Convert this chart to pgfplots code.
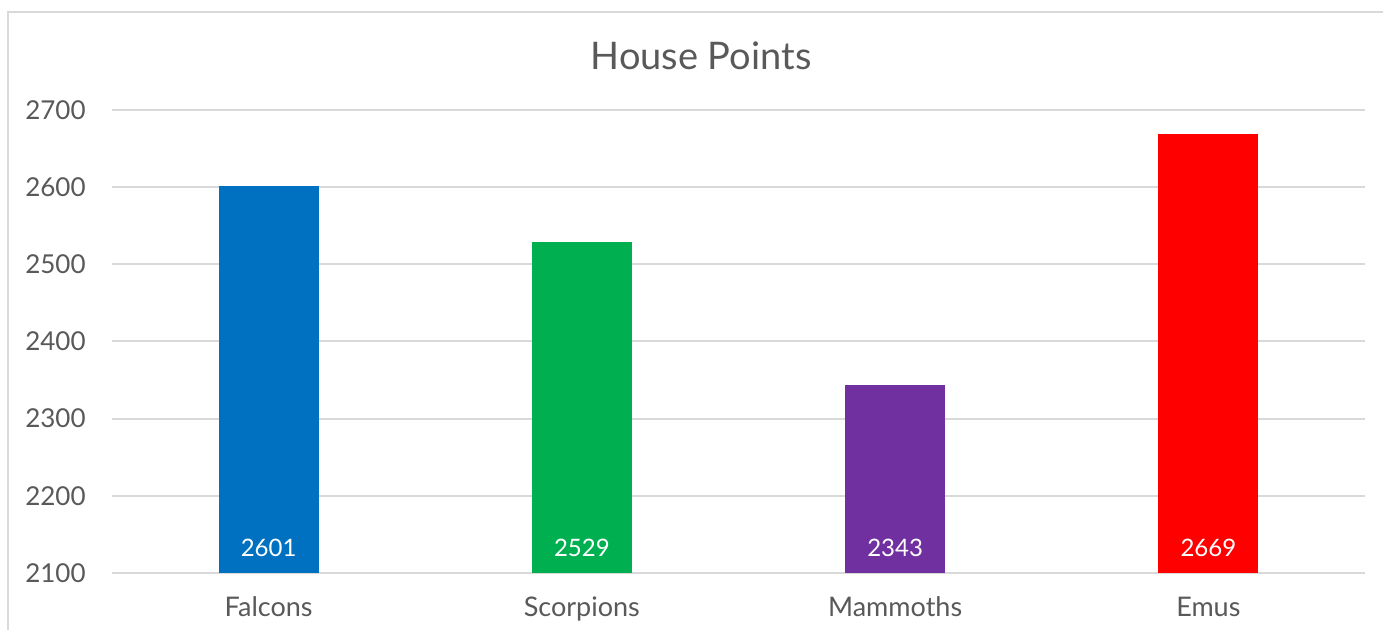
\documentclass[border=0pt]{standalone}
\usepackage{fontspec}
\setmainfont{Lato}
\usepackage{pgfplots}
\pgfplotsset{compat=1.18}
\definecolor{txt}{HTML}{595959}
\definecolor{gridc}{HTML}{D9D9D9}
\definecolor{cblue}{HTML}{0070C0}
\definecolor{cgreen}{HTML}{00B050}
\definecolor{cpurple}{HTML}{7030A0}
\definecolor{cred}{HTML}{FF0000}
\begin{document}
\begin{tikzpicture}
\useasboundingbox (0,0) rectangle (691.5pt,315pt);
\fill[white] (0,0) rectangle (691.5pt,315pt);
\draw[gridc, line width=1pt] (4pt,-20pt) rectangle (720pt,309pt);
\node[text=txt, font=\fontsize{19}{22}\selectfont] at (350.5pt,287pt) {House Points};
\begin{axis}[
  at={(56pt,28.5pt)}, anchor=south west,
  scale only axis, width=626.5pt, height=231.5pt,
  xmin=-0.5, xmax=3.5, ymin=2100, ymax=2700,
  ytick={2100,2200,...,2700},
  xtick={0,1,2,3},
  xticklabels={Falcons,Scorpions,Mammoths,Emus},
  axis line style={draw=none},
  major tick length=0pt,
  ymajorgrids, grid style={gridc, line width=1pt},
  /pgf/number format/assume math mode=true,
  /pgf/number format/set thousands separator={},
  ticklabel style={text=txt, font=\fontsize{13}{15}\selectfont},
  yticklabel style={anchor=east, inner sep=0pt, xshift=-13pt},
  xticklabel style={anchor=base, inner sep=0pt, yshift=-22pt, font=\fontsize{13.5}{15}\selectfont},
  clip=true,
]
\addplot[ybar, bar width=50pt, bar shift=0pt, fill=cblue, draw=none] coordinates {(0,2601)};
\addplot[ybar, bar width=50pt, bar shift=0pt, fill=cgreen, draw=none] coordinates {(1,2529)};
\addplot[ybar, bar width=50pt, bar shift=0pt, fill=cpurple, draw=none] coordinates {(2,2343)};
\addplot[ybar, bar width=50pt, bar shift=0pt, fill=cred, draw=none] coordinates {(3,2669)};
\addplot[draw=none, mark=none, point meta=explicit symbolic,
  nodes near coords,
  every node near coord/.style={anchor=base, yshift=8pt, text=white, inner sep=0pt, font=\fontsize{12}{14}\selectfont}]
  coordinates {(0,2100)[2601] (1,2100)[2529] (2,2100)[2343] (3,2100)[2669]};
\end{axis}
\end{tikzpicture}
\end{document}
